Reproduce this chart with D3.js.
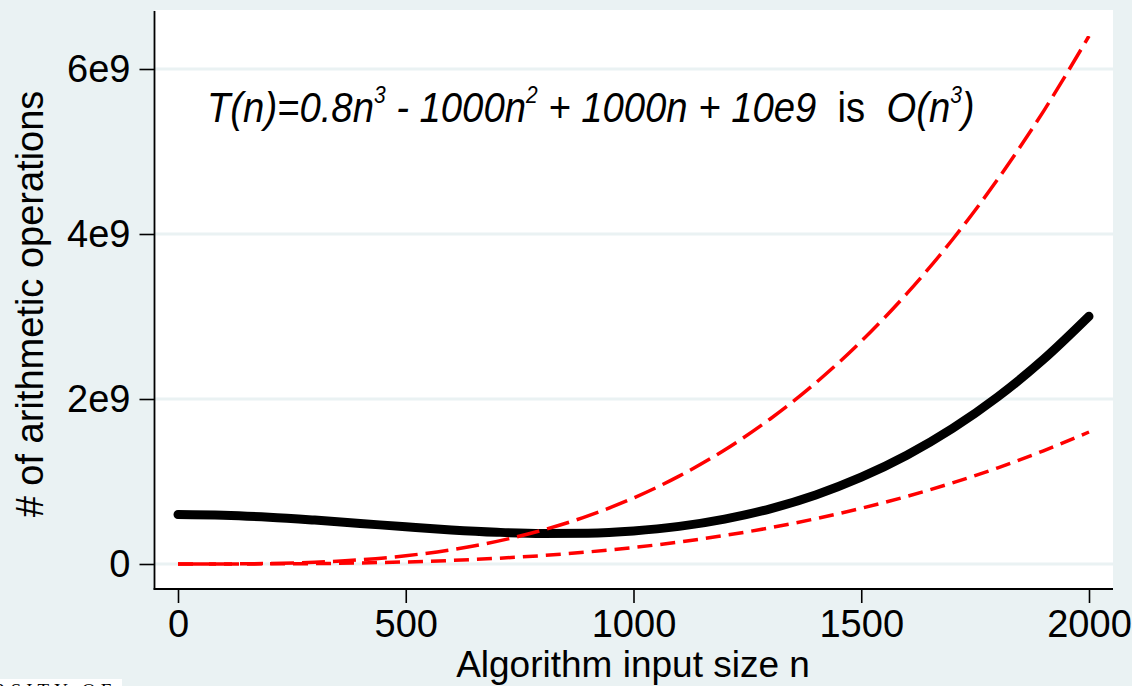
<!DOCTYPE html>
<html>
<head>
<meta charset="utf-8">
<script src="https://cdn.jsdelivr.net/npm/d3@7"></script>
<style>
  html, body { margin: 0; padding: 0; background: #eaf2f3; }
  svg { display: block; font-family: "Liberation Sans", Arial, sans-serif; }
</style>
</head>
<body>
<svg width="1132" height="686"></svg>
<script>
// input size n
var sizes = [0, 100, 200, 300, 400, 500, 600, 700, 800, 900, 1000,
             1100, 1200, 1300, 1400, 1500, 1600, 1700, 1800, 1900, 2000];
// T(n), in units of 1e9 operations
var tValues = [0.600, 0.591, 0.567, 0.532, 0.492, 0.451, 0.413, 0.385, 0.370, 0.374, 0.401,
               0.456, 0.544, 0.669, 0.837, 1.052, 1.318, 1.642, 2.027, 2.479, 3.002];
// upper bound (long dash)
var upperValues = [0, 0.001, 0.006, 0.022, 0.051, 0.100, 0.173, 0.274, 0.410, 0.583, 0.800,
                   1.065, 1.382, 1.758, 2.195, 2.700, 3.277, 3.930, 4.666, 5.487, 6.400];
// lower bound (short dash)
var lowerValues = [0, 0.0002, 0.002, 0.005, 0.013, 0.025, 0.043, 0.069, 0.102, 0.146, 0.200,
                   0.266, 0.346, 0.439, 0.549, 0.675, 0.819, 0.983, 1.166, 1.372, 1.600];
var xTicks = [0, 500, 1000, 1500, 2000];
var yTicks = [0, 2, 4, 6];

var loadVis = function() {
    var svg = d3.select("svg");

    var plotLeft = 155, plotRight = 1113, plotTop = 10, plotBottom = 589;

    var x = d3.scaleLinear().domain([0, 2000]).range([178, 1089]);
    var y = d3.scaleLinear().domain([0, 6]).range([564, 69]);

    // plot region
    svg.append("rect")
        .attr("x", plotLeft).attr("y", plotTop)
        .attr("width", plotRight - plotLeft).attr("height", plotBottom - plotTop)
        .attr("fill", "#ffffff");

    // gridlines
    svg.append("g").selectAll("line")
        .data(yTicks).enter().append("line")
            .attr("x1", plotLeft).attr("x2", plotRight)
            .attr("y1", function(d) { return y(d); })
            .attr("y2", function(d) { return y(d); })
            .style("stroke", "#eaf2f3")
            .style("stroke-width", 3);

    var yAxis = svg.append("g")
        .attr("transform", "translate(" + (plotLeft - 0.5) + ",0)")
        .call(d3.axisLeft(y).tickValues(yTicks).tickSize(15).tickPadding(9)
            .tickFormat(function(d) { return d === 0 ? "0" : d + "e9"; }));

    var xAxis = svg.append("g")
        .attr("transform", "translate(0," + plotBottom + ")")
        .call(d3.axisBottom(x).tickValues(xTicks).tickSize(14).tickPadding(7)
            .tickFormat(d3.format("d")));

    [yAxis, xAxis].forEach(function(a) {
        a.select(".domain").remove();
        a.selectAll(".tick line").style("stroke", "#000").style("stroke-width", 1.6);
        a.selectAll(".tick text")
            .style("font-family", "'Liberation Sans', Arial, sans-serif")
            .style("font-size", "38px")
            .style("fill", "#000");
    });

    // axis lines
    svg.append("line")
        .attr("x1", plotLeft - 0.5).attr("x2", plotLeft - 0.5)
        .attr("y1", plotTop + 1).attr("y2", plotBottom + 0.8)
        .style("stroke", "#000").style("stroke-width", 1.8);
    svg.append("line")
        .attr("x1", plotLeft - 1.4).attr("x2", plotRight)
        .attr("y1", plotBottom).attr("y2", plotBottom)
        .style("stroke", "#000").style("stroke-width", 1.8);

    var line = function(vals) {
        return d3.line()
            .x(function(d, i) { return x(sizes[i]); })
            .y(function(d) { return y(d); })
            .curve(d3.curveMonotoneX)(vals);
    };

    svg.append("path")
        .attr("d", line(tValues))
        .attr("fill", "none")
        .style("stroke", "#000")
        .style("stroke-width", 9)
        .style("stroke-linecap", "round");

    svg.append("path")
        .attr("d", line(upperValues))
        .attr("fill", "none")
        .style("stroke", "#ff0000")
        .style("stroke-width", 3.5)
        .style("stroke-dasharray", "23,8");

    svg.append("path")
        .attr("d", line(lowerValues))
        .attr("fill", "none")
        .style("stroke", "#ff0000")
        .style("stroke-width", 3.5)
        .style("stroke-dasharray", "15,8");

    // formula annotation
    var note = svg.append("g");
    var txt = note.append("text")
        .attr("x", 0).attr("y", 0)
        .style("font-size", "42px")
        .style("font-style", "italic")
        .style("fill", "#000");
    var parts = [
        ["T(n)=0.8n", 0], ["3", 1], ["\u00a0-\u00a01000n", 0], ["2", 1],
        ["\u00a0+\u00a01000n\u00a0+\u00a010e9\u00a0\u00a0", 0], ["is", 2],
        ["\u00a0\u00a0O(n", 0], ["3", 1], [")", 0]
    ];
    parts.forEach(function(p, i) {
        var ts = txt.append("tspan").text(p[0]);
        if (p[1] === 1) {
            ts.style("font-size", "23px").attr("dy", -19);
        } else if (i > 0 && parts[i - 1][1] === 1) {
            ts.attr("dy", 19);
        }
        if (p[1] === 2) ts.style("font-style", "normal");
    });
    var w = txt.node().getComputedTextLength();
    note.attr("transform", "translate(207,122) scale(" + (768 / w) + ",1)");

    // axis titles
    svg.append("text")
        .attr("x", 633).attr("y", 677)
        .attr("text-anchor", "middle")
        .style("font-size", "37px")
        .text("Algorithm input size n");

    svg.append("text")
        .attr("transform", "translate(43,304) rotate(-90)")
        .attr("text-anchor", "middle")
        .style("font-size", "38px")
        .text("# of arithmetic operations");

    // clipped slide footer
    svg.append("rect")
        .attr("x", 0).attr("y", 679).attr("width", 122).attr("height", 7)
        .attr("fill", "#ffffff");
    svg.append("text")
        .attr("x", -7).attr("y", 697)
        .style("font-family", "'Liberation Serif', serif")
        .style("font-size", "19px")
        .style("letter-spacing", "5px")
        .text("RSITY OF");
};

document.addEventListener('DOMContentLoaded', loadVis, false);
</script>
</body>
</html>
